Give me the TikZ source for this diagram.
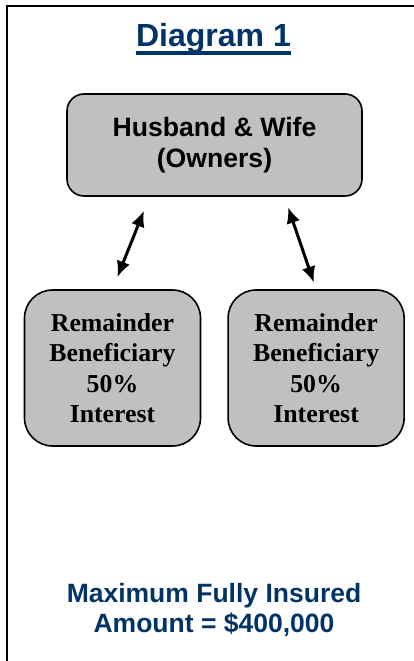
\documentclass[tikz,border=0pt]{standalone}
\usepackage{fontspec}
\setmainfont{Liberation Serif}
\setsansfont{Liberation Sans}
\usetikzlibrary{arrows.meta, positioning}
\definecolor{titleblue}{RGB}{0,51,102}
\definecolor{boxgray}{RGB}{192,192,192}
\newcommand{\thickul}[1]{\setbox0\hbox{#1}\rlap{\rule[-8pt]{\wd0}{4pt}}\box0}

\begin{document}
\begin{tikzpicture}[
    x=1pt, y=-1pt,
    node distance=26pt,
    ownerbox/.style={rectangle, rounded corners=17pt, draw, line width=1.6pt, fill=boxgray, minimum width=295pt, minimum height=102pt, align=center, font=\sffamily\bfseries\fontsize{26.6}{31}\selectfont},
    benbox/.style={rectangle, rounded corners=28pt, draw, line width=1.6pt, fill=boxgray, minimum width=176pt, minimum height=156pt, align=center, font=\rmfamily\bfseries\fontsize{25.8}{30.5}\selectfont},
    heading/.style={text=titleblue, font=\sffamily\bfseries\fontsize{32}{38}\selectfont},
    note/.style={text=titleblue, align=center, font=\sffamily\bfseries\fontsize{26.5}{30}\selectfont},
    arrow/.style={{Latex[length=16pt,width=14pt]}-{Latex[length=16pt,width=14pt]}, line width=3pt}
]
\useasboundingbox (0,0) rectangle (414,661);

% Frame
\draw[line width=2pt] (6.5,680) -- (6.5,6.5) -- (440,6.5);

% Title
\node[heading, anchor=base] (title) at (213.5,47) {\thickul{Diagram 1}};

% Owners
\node[ownerbox] (owners) at (214.5,145) {Husband \& Wife\\(Owners)};

% Beneficiaries
\node[benbox] (leftben) at (112.5,368) {Remainder\\Beneficiary\\50\%\\Interest};
\node[benbox, right=of leftben] (rightben) {Remainder\\Beneficiary\\50\%\\Interest};

% Arrows
\draw[arrow, shorten <=13pt, shorten >=15pt] (leftben.north) -- ([xshift=-65pt]owners.south);
\draw[arrow, shorten <=11pt, shorten >=7pt] ([xshift=70pt]owners.south) -- (rightben.north);

% Amount
\node[note] (amount) at (214,610) {Maximum Fully Insured\\Amount = \$400,000};

\end{tikzpicture}
\end{document}
